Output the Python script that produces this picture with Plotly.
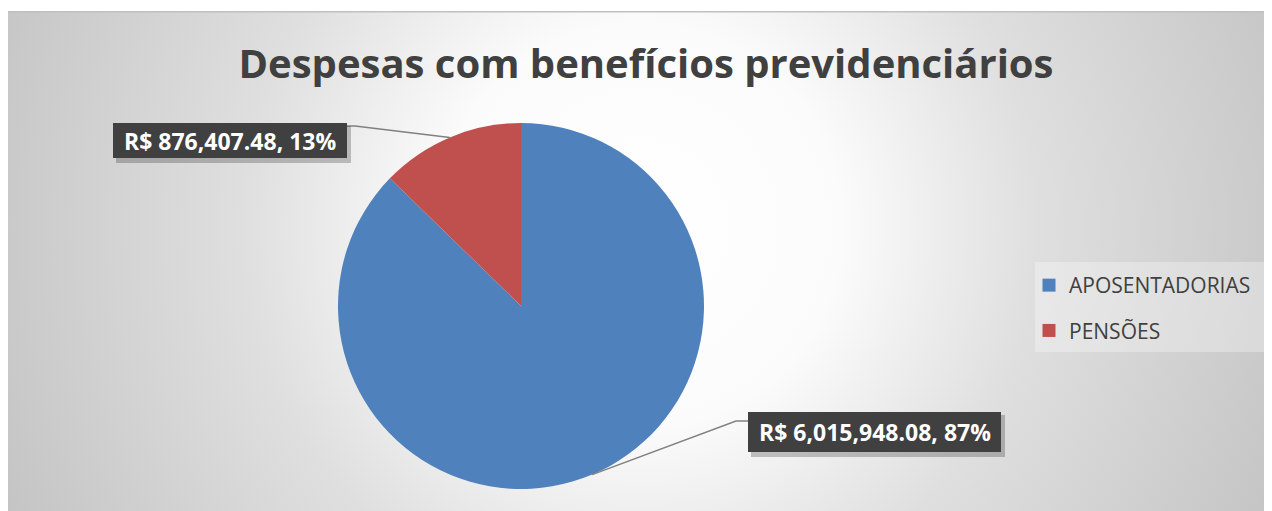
import base64
import math
import plotly.graph_objects as go

# ---------------- data ----------------
categories = ["APOSENTADORIAS", "PENSÕES"]
values = [6015948.08, 876407.48]
colors = ["#4f81bd", "#c0504d"]
title_text = "Despesas com benefícios previdenciários"

# the page body adds an 8px margin; figure sized to fill the rest of the window
OFF = 8
W, H = 1272 - OFF, 511 - OFF

# ---------------- helpers (screen px -> paper) ----------------
def px(x):
    return (x - OFF) / W

def py(y):
    return 1 - (y - OFF) / H

# background radial gradient (chart area)
ax0, ay0, ax1, ay1 = 7, 11, 1271, 511
gw, gh = ax1 - ax0, ay1 - ay0
svg = f"""<svg xmlns='http://www.w3.org/2000/svg' width='{gw}' height='{gh}'>
<defs><radialGradient id='g' gradientUnits='userSpaceOnUse' cx='633' cy='215' r='720'>
<stop offset='0' stop-color='#ffffff'/>
<stop offset='0.28' stop-color='#fbfbfb'/>
<stop offset='0.55' stop-color='#dfdfdf'/>
<stop offset='1' stop-color='#c2c2c2'/>
</radialGradient></defs>
<rect x='0' y='0' width='{gw}' height='{gh}' fill='url(#g)'/>
<rect x='0' y='0' width='{gw}' height='1.5' fill='#c0c0c0'/>
</svg>"""
bg_src = "data:image/svg+xml;base64," + base64.b64encode(svg.encode()).decode()

# dotted pattern for label boxes
pat = """<svg xmlns='http://www.w3.org/2000/svg' width='300' height='60'>
<defs><pattern id='p' width='5' height='5' patternUnits='userSpaceOnUse'>
<rect width='5' height='5' fill='#404040'/><rect x='2' y='2' width='1' height='1' fill='#565656'/>
</pattern></defs><rect width='300' height='60' fill='url(#p)'/></svg>"""
pat_src = "data:image/svg+xml;base64," + base64.b64encode(pat.encode()).decode()

# pie geometry (screen pixels)
pie_l, pie_r, pie_t, pie_b = 338, 704, 123, 489
cx, cy = (pie_l + pie_r) / 2, (pie_t + pie_b) / 2
rad = (pie_r - pie_l) / 2

fig = go.Figure()

fig.add_trace(go.Pie(
    labels=categories,
    values=values,
    marker=dict(colors=colors, line=dict(width=0)),
    sort=False,
    direction="clockwise",
    rotation=0,
    textinfo="none",
    hoverinfo="label+value+percent",
    showlegend=False,
    domain=dict(x=[px(pie_l), px(pie_r)], y=[py(pie_b), py(pie_t)]),
))

# legend entries (separate groups so spacing can be set)
for i, (c, col) in enumerate(zip(categories, colors)):
    fig.add_trace(go.Scatter(
        x=[None], y=[None], mode="markers", name=c,
        marker=dict(symbol="square", size=13, color=col),
        legendgroup=f"g{i}", showlegend=True, hoverinfo="skip",
    ))

# data labels
total = sum(values)
label_boxes = [  # (left, top, right, bottom, elbow_x) in screen px, per category
    (748, 412, 1001, 452, 736),
    (113, 123, 347, 158, 355),
]
shapes = []
annotations = []
images = [dict(source=bg_src, xref="paper", yref="paper",
               x=px(ax0), y=py(ay0), sizex=px(ax1) - px(ax0), sizey=py(ay0) - py(ay1),
               sizing="stretch", layer="below", xanchor="left", yanchor="top")]
cum = 0.0
for i, v in enumerate(values):
    frac = v / total
    theta = 2 * math.pi * (cum + frac / 2)
    cum += frac
    ex = cx + rad * math.sin(theta)
    ey = cy - rad * math.cos(theta)
    l, t, r, b, elx = label_boxes[i]
    side_x = l if ex > cx else r
    ely = t + 9 if ex > cx else t + 3
    # leader line
    shapes.append(dict(type="path", xref="paper", yref="paper",
                       path=f"M {px(ex)} {py(ey)} L {px(elx)} {py(ely)} L {px(side_x)} {py(ely)}",
                       line=dict(color="#808080", width=1.5)))
    # shadow
    shapes.append(dict(type="rect", xref="paper", yref="paper",
                       x0=px(l + 3), x1=px(r + 4), y0=py(b + 5), y1=py(t + 3),
                       fillcolor="rgba(0,0,0,0.22)", line=dict(width=0)))
    # box
    shapes.append(dict(type="rect", xref="paper", yref="paper",
                       x0=px(l), x1=px(r), y0=py(b), y1=py(t),
                       fillcolor="#404040", line=dict(width=0)))
    images.append(dict(source=pat_src, xref="paper", yref="paper",
                       x=px(l), y=py(t), sizex=px(r) - px(l), sizey=py(t) - py(b),
                       sizing="fill", layer="above", xanchor="left", yanchor="top"))
    txt = f"R$ {v:,.2f}, {frac*100:.0f}%"
    annotations.append(dict(xref="paper", yref="paper",
                            x=px((l + r) / 2), y=py((t + b) / 2),
                            text=f"<b>{txt}</b>", showarrow=False,
                            xanchor="center", yanchor="middle",
                            font=dict(family="Open Sans", size=23, color="#ffffff")))

# legend background
shapes.append(dict(type="rect", xref="paper", yref="paper",
                   x0=px(1035), x1=px(1268), y0=py(352), y1=py(262),
                   fillcolor="rgba(255,255,255,0.3)", line=dict(width=0), layer="below"))

fig.update_layout(
    width=W, height=H,
    margin=dict(l=0, r=0, t=0, b=0),
    paper_bgcolor="#ffffff",
    plot_bgcolor="rgba(0,0,0,0)",
    images=images,
    title=dict(text=f"<b>{title_text}</b>", x=px(646), xanchor="center",
               y=py(64), yanchor="middle",
               font=dict(family="Open Sans", size=40, color="#404040")),
    xaxis=dict(visible=False),
    yaxis=dict(visible=False),
    showlegend=True,
    legend=dict(x=px(1029), y=py(265), xanchor="left", yanchor="top",
                bgcolor="rgba(0,0,0,0)", tracegroupgap=15,
                font=dict(family="Open Sans", size=21, color="#404040")),
    shapes=shapes,
    annotations=annotations,
)

fig.write_html("out.html")
